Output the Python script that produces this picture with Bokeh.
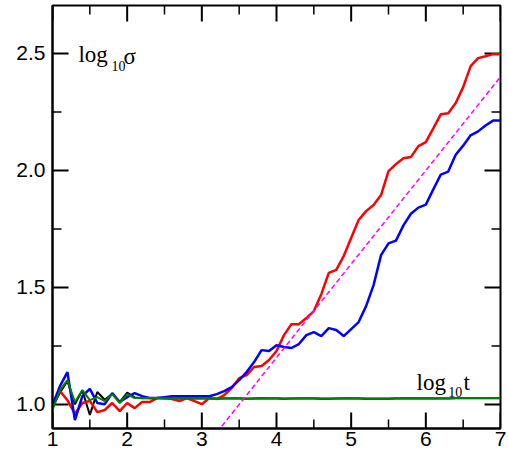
from bokeh.plotting import figure
from bokeh.models import SingleIntervalTicker, PrintfTickFormatter, Range1d, Label
from bokeh.embed import file_html
from bokeh.resources import INLINE

t_log = [1.0, 1.1, 1.2, 1.3, 1.4, 1.5, 1.6, 1.7, 1.8, 1.9,
         2.0, 2.1, 2.2, 2.3, 2.4, 2.5, 2.6, 2.7, 2.8, 2.9,
         3.0, 3.1, 3.2, 3.3, 3.4, 3.5, 3.6, 3.7, 3.8, 3.9,
         4.0, 4.1, 4.2, 4.3, 4.4, 4.5, 4.6, 4.7, 4.8, 4.9,
         5.0, 5.1, 5.2, 5.3, 5.4, 5.5, 5.6, 5.7, 5.8, 5.9,
         6.0, 6.1, 6.2, 6.3, 6.4, 6.5, 6.6, 6.7, 6.8, 6.9, 7.0]

red_sigma = [1.006, 1.057, 1.018, 0.959, 1.006, 1.015, 0.967, 0.976, 1.006, 0.971,
             1.006, 0.984, 1.010, 1.010, 1.027, 1.027, 1.023, 1.014, 1.027, 1.014,
             1.001, 1.027, 1.023, 1.040, 1.070, 1.112, 1.125, 1.160, 1.164, 1.190,
             1.228, 1.296, 1.343, 1.343, 1.369, 1.399, 1.471, 1.562, 1.575, 1.634,
             1.711, 1.788, 1.826, 1.852, 1.895, 1.997, 2.027, 2.052, 2.057, 2.104,
             2.121, 2.180, 2.240, 2.244, 2.288, 2.356, 2.446, 2.480, 2.488, 2.497, 2.497]

blue_sigma = [0.997, 1.078, 1.138, 0.933, 1.035, 1.066, 1.006, 1.001, 1.048, 1.010,
              1.031, 1.048, 1.035, 1.027, 1.027, 1.031, 1.035, 1.035, 1.035, 1.035,
              1.035, 1.035, 1.044, 1.057, 1.074, 1.104, 1.138, 1.181, 1.232, 1.228,
              1.253, 1.245, 1.241, 1.258, 1.296, 1.309, 1.292, 1.326, 1.318, 1.292,
              1.322, 1.352, 1.420, 1.510, 1.638, 1.688, 1.700, 1.765, 1.815, 1.841,
              1.854, 1.919, 1.982, 1.995, 2.067, 2.106, 2.150, 2.167, 2.192, 2.213, 2.213]

green_sigma = [0.976, 1.061, 1.104, 1.010, 1.061, 1.018, 1.031, 1.014, 1.044, 1.006,
               1.044, 1.027, 1.027, 1.027, 1.027, 1.026, 1.026, 1.026, 1.026, 1.026,
               1.026, 1.026, 1.025, 1.026, 1.026, 1.026, 1.025, 1.025, 1.026, 1.026,
               1.026, 1.025, 1.025, 1.026, 1.026, 1.026, 1.025, 1.025, 1.025, 1.026,
               1.026, 1.026, 1.025, 1.025, 1.025, 1.025, 1.026, 1.026, 1.026, 1.026,
               1.026, 1.026, 1.026, 1.026, 1.027, 1.027, 1.027, 1.027, 1.027, 1.027, 1.027]

black_sigma = [0.990, 1.050, 1.100, 1.000, 1.060, 0.955, 1.053, 1.020, 1.045, 1.010,
               1.050, 1.030, 1.026, 1.026, 1.026, 1.025, 1.025, 1.025, 1.025, 1.025,
               1.025, 1.025, 1.024, 1.025, 1.025, 1.025, 1.024, 1.025, 1.026, 1.025,
               1.025, 1.024, 1.025, 1.025, 1.025, 1.025, 1.024, 1.024, 1.025, 1.025,
               1.025, 1.025, 1.024, 1.024, 1.024, 1.024, 1.025, 1.025, 1.025, 1.025,
               1.025, 1.025, 1.025, 1.025, 1.026, 1.026, 1.026, 1.026, 1.026, 1.026, 1.026]

fit_t = [3.0, 7.0]
fit_sigma = [0.80, 2.40]

x_major = [1.0, 2.0, 3.0, 4.0, 5.0, 6.0, 7.0]
x_minor = [1.5, 2.5, 3.5, 4.5, 5.5, 6.5]
y_major = [1.0, 1.5, 2.0, 2.5]
y_minor = [1.25, 1.75, 2.25]

X0, X1 = 1.0, 7.0
Y0, Y1 = 0.897, 2.705

W, H = 508, 453
BL, BR, BT, BB = 52, 8, 5, 25
FW, FH = W - BL - BR, H - BT - BB   # frame size in pixels

p = figure(width=W, height=H, output_backend="svg", toolbar_location=None,
           x_range=Range1d(X0, X1), y_range=Range1d(Y0, Y1),
           min_border_left=BL, min_border_top=BT, min_border_right=BR, min_border_bottom=BB,
           background_fill_color="white", border_fill_color="white")
p.grid.visible = False
p.outline_line_color = "black"
p.outline_line_width = 2

FONT = "Liberation Sans"
for ax in (p.xaxis[0], p.yaxis[0]):
    ax.axis_line_color = "black"
    ax.axis_line_width = 2
    ax.major_tick_in = 0
    ax.major_tick_out = 0
    ax.minor_tick_in = 0
    ax.minor_tick_out = 0
    ax.major_label_text_font = FONT
    ax.major_label_text_font_size = "21px"
    ax.major_label_text_color = "black"

p.xaxis[0].ticker = SingleIntervalTicker(interval=1.0)
p.xaxis[0].major_label_standoff = 3
p.yaxis[0].ticker = SingleIntervalTicker(interval=0.5)
p.yaxis[0].formatter = PrintfTickFormatter(format="%.1f")
p.yaxis[0].major_label_standoff = 7

# inward ticks on all four sides (tick lengths in pixels converted to data units)
MAJ, MIN = 16, 9
dx = (X1 - X0) / FW
dy = (Y1 - Y0) / FH

def tick_lines(length, width, xs_list, ys_list):
    for xv in xs_list:
        p.line([xv, xv], [Y0, Y0 + length * dy], line_color="#000000", line_width=width)
        p.line([xv, xv], [Y1, Y1 - length * dy], line_color="#000000", line_width=width)
    for yv in ys_list:
        p.line([X0, X0 + length * dx], [yv, yv], line_color="#000000", line_width=width)
        p.line([X1, X1 - length * dx], [yv, yv], line_color="#000000", line_width=width)

tick_lines(MAJ, 2, x_major, y_major)
tick_lines(MIN, 1.5, x_minor, y_minor)

# data lines
p.line(t_log, black_sigma, line_color="black", line_width=2)
p.line(t_log, red_sigma, line_color="#ff0000", line_width=2.5)
p.line(t_log, blue_sigma, line_color="#0000ff", line_width=2.5)
p.line(t_log, green_sigma, line_color="#008000", line_width=2)
p.line(fit_t, fit_sigma, line_color="#ff00ff", line_width=1.5, line_dash="5 3")

SERIF = "Liberation Serif"
def lab(x, y, text, size):
    p.add_layout(Label(x=x, y=y, text=text, text_font=SERIF, text_font_size=size,
                       text_color="black", text_baseline="alphabetic", text_align="left"))

lab(1.348, 2.497, "log", "23px")
lab(1.79, 2.446, "10", "14px")
lab(1.951, 2.488, "σ", "23px")

lab(5.875, 1.095, "log", "23px")
lab(6.30, 1.053, "10", "14px")
lab(6.504, 1.095, "t", "23px")

open("out.html", "w").write(file_html(p, INLINE))
